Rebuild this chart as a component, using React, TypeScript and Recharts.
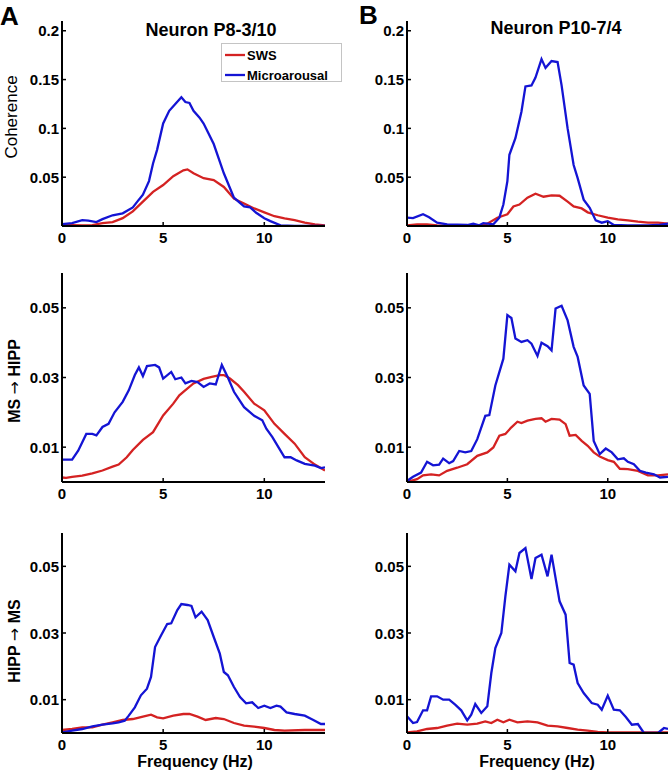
import React from 'react';
import { LineChart, Line, XAxis, YAxis } from 'recharts';

// [frequency (Hz), value]
const cohA_sws = [[0, 0.001], [1, 0.0005], [1.5, 0.001], [2, 0.003], [2.5, 0.004], [3, 0.008], [3.5, 0.015], [4, 0.025], [4.5, 0.035], [5, 0.042], [5.5, 0.051], [6, 0.057], [6.2, 0.058], [6.5, 0.054], [7, 0.049], [7.5, 0.047], [8, 0.04], [8.5, 0.028], [9, 0.023], [9.5, 0.018], [10, 0.014], [10.5, 0.01], [11, 0.0078], [11.5, 0.006], [12, 0.0034], [12.5, 0.0017], [13, 0.0007]];
const cohA_ma = [[0, 0.002], [0.5, 0.003], [1, 0.006], [1.3, 0.0055], [1.7, 0.004], [2, 0.007], [2.5, 0.011], [3, 0.013], [3.5, 0.019], [3.8, 0.027], [4, 0.032], [4.3, 0.046], [4.5, 0.064], [4.7, 0.078], [5, 0.105], [5.3, 0.118], [5.6, 0.125], [5.9, 0.132], [6.1, 0.127], [6.3, 0.126], [6.5, 0.118], [6.8, 0.111], [7, 0.105], [7.5, 0.084], [8, 0.054], [8.5, 0.029], [9, 0.02], [9.3, 0.019], [9.6, 0.0135], [10, 0.008], [10.3, 0.005], [10.8, 0.0007], [11.5, 0], [12, 0], [13, 0]];
const cohB_sws = [[0, 0.0007], [0.5, 0.0017], [1, 0.0017], [1.5, 0.0007], [2, 0], [3.5, 0], [4, 0.0024], [4.5, 0.0085], [5, 0.012], [5.3, 0.02], [5.6, 0.022], [6, 0.029], [6.4, 0.033], [6.8, 0.03], [7.2, 0.0314], [7.6, 0.031], [8, 0.025], [8.3, 0.02], [8.7, 0.018], [9, 0.014], [9.5, 0.011], [10, 0.0085], [10.5, 0.0068], [11, 0.0057], [11.5, 0.0044], [12, 0.0034], [12.5, 0.0034], [13, 0.0024]];
const cohB_ma = [[0, 0.0085], [0.3, 0.008], [0.8, 0.012], [1.1, 0.009], [1.5, 0.0034], [2, 0.0017], [3, 0.001], [3.3, 0.0024], [3.6, 0.0007], [3.8, 0.003], [4.3, 0.0017], [4.6, 0.0085], [4.8, 0.022], [5, 0.046], [5.1, 0.073], [5.4, 0.09], [5.7, 0.117], [5.9, 0.143], [6.2, 0.144], [6.4, 0.152], [6.7, 0.171], [6.9, 0.162], [7.2, 0.169], [7.5, 0.168], [7.7, 0.144], [8, 0.1], [8.3, 0.0625], [8.5, 0.049], [8.8, 0.027], [9.1, 0.0186], [9.4, 0.0057], [9.7, 0.0034], [10, 0.005], [10.3, 0.001], [11, 0.0007], [12, 0.0007], [12.5, 0.001], [13, 0.0024]];

const msA_sws = [[0, 0.0013], [0.2, 0.0012], [0.5, 0.0015], [1, 0.0018], [1.5, 0.0025], [2, 0.0033], [2.5, 0.0044], [2.8, 0.005], [3.2, 0.0071], [3.5, 0.0092], [4, 0.0121], [4.5, 0.0143], [4.8, 0.0172], [5, 0.0191], [5.5, 0.0225], [5.8, 0.0249], [6, 0.0259], [6.5, 0.0283], [7, 0.0296], [7.4, 0.0302], [7.8, 0.0307], [8, 0.0307], [8.3, 0.0297], [8.7, 0.0278], [9, 0.0259], [9.5, 0.0225], [10, 0.0206], [10.5, 0.0167], [11, 0.0138], [11.5, 0.011], [12, 0.0071], [12.5, 0.005], [13, 0.0033]];
const msA_ma = [[0, 0.0064], [0.5, 0.0064], [0.8, 0.009], [1.2, 0.0138], [1.5, 0.0138], [1.7, 0.0134], [2, 0.0158], [2.3, 0.0167], [2.6, 0.02], [3, 0.023], [3.3, 0.0263], [3.6, 0.0307], [3.8, 0.0329], [4, 0.0304], [4.2, 0.0333], [4.6, 0.0336], [4.8, 0.0329], [5, 0.0297], [5.4, 0.0316], [5.6, 0.0295], [5.9, 0.03], [6.1, 0.0283], [6.4, 0.029], [6.7, 0.0287], [7, 0.0273], [7.3, 0.0283], [7.6, 0.028], [7.9, 0.0336], [8.2, 0.03], [8.5, 0.0259], [9, 0.0215], [9.5, 0.019], [9.9, 0.0177], [10.1, 0.0153], [10.4, 0.0129], [10.8, 0.009], [11, 0.0071], [11.3, 0.0071], [11.6, 0.0062], [12, 0.0052], [12.5, 0.0047], [12.8, 0.004], [13, 0.0042]];
const msB_sws = [[0, 0], [0.5, 0.0008], [0.8, 0.0019], [1.2, 0.0022], [1.6, 0.0019], [2, 0.0032], [2.5, 0.0041], [3, 0.0051], [3.5, 0.0075], [4, 0.0085], [4.3, 0.0099], [4.6, 0.0133], [4.9, 0.0138], [5.2, 0.0157], [5.5, 0.0173], [5.7, 0.0169], [6, 0.0176], [6.4, 0.0181], [6.7, 0.0183], [6.9, 0.0173], [7.2, 0.0181], [7.6, 0.0179], [7.9, 0.0166], [8.1, 0.0133], [8.4, 0.0135], [8.7, 0.0118], [9, 0.0104], [9.3, 0.0085], [9.6, 0.0073], [10, 0.0063], [10.3, 0.0058], [10.6, 0.0038], [11, 0.0037], [11.5, 0.0032], [12, 0.0019], [12.5, 0.0019], [13, 0.0022]];
const msB_ma = [[0, 0.0003], [0.3, 0.0015], [0.7, 0.0027], [1, 0.0058], [1.3, 0.0048], [1.6, 0.005], [1.8, 0.0067], [2.1, 0.0054], [2.3, 0.006], [2.6, 0.0089], [2.9, 0.0085], [3.2, 0.0089], [3.5, 0.0123], [3.9, 0.019], [4.1, 0.0192], [4.4, 0.0277], [4.8, 0.0354], [5, 0.0479], [5.2, 0.0471], [5.4, 0.0412], [5.7, 0.0402], [6, 0.0407], [6.2, 0.0397], [6.5, 0.0362], [6.7, 0.04], [7, 0.039], [7.2, 0.0378], [7.4, 0.0498], [7.7, 0.0506], [8, 0.0464], [8.3, 0.0388], [8.5, 0.0359], [8.8, 0.0277], [9.1, 0.0253], [9.3, 0.0118], [9.6, 0.008], [9.9, 0.0096], [10.2, 0.0085], [10.5, 0.0065], [10.8, 0.0068], [11, 0.0058], [11.3, 0.0051], [11.6, 0.0032], [11.9, 0.0027], [12.3, 0.0022], [12.6, 0.0013], [13, 0.0015]];

const hpA_sws = [[0, 0.0009], [0.5, 0.0012], [1, 0.0017], [1.5, 0.0017], [2, 0.0025], [2.5, 0.0032], [3, 0.0039], [3.5, 0.0042], [4, 0.0049], [4.4, 0.0055], [4.7, 0.0047], [5, 0.0044], [5.5, 0.0052], [6, 0.0057], [6.3, 0.0057], [6.7, 0.0049], [7.1, 0.0039], [7.6, 0.0045], [8, 0.0042], [8.5, 0.003], [9, 0.0022], [9.5, 0.0019], [10, 0.0015], [10.5, 0.0009], [11, 0.0007], [12, 0.0009], [13, 0.0009]];
const hpA_ma = [[0, 0.0002], [0.5, 0.0007], [1, 0.0012], [1.5, 0.002], [2, 0.0025], [2.5, 0.0029], [2.8, 0.0032], [3.1, 0.0037], [3.3, 0.0052], [3.6, 0.0077], [3.9, 0.0113], [4.2, 0.0133], [4.4, 0.0168], [4.6, 0.0258], [4.9, 0.0293], [5.2, 0.0327], [5.4, 0.0329], [5.7, 0.0369], [5.9, 0.0387], [6.2, 0.0384], [6.4, 0.0381], [6.6, 0.0347], [6.9, 0.0364], [7.2, 0.0339], [7.5, 0.0288], [7.8, 0.0238], [8, 0.0183], [8.2, 0.0173], [8.5, 0.0138], [8.8, 0.0108], [9.1, 0.0089], [9.4, 0.0092], [9.7, 0.0075], [10, 0.0082], [10.3, 0.0075], [10.6, 0.0082], [10.8, 0.0079], [11.1, 0.0062], [11.5, 0.0057], [12, 0.0052], [12.4, 0.004], [12.8, 0.0027], [13, 0.0027]];
const hpB_sws = [[0, 0.0002], [0.5, 0.0005], [1, 0.0012], [1.5, 0.0015], [2, 0.0022], [2.5, 0.0028], [3, 0.0025], [3.5, 0.0028], [3.9, 0.0035], [4.2, 0.003], [4.5, 0.004], [4.8, 0.0032], [5.1, 0.004], [5.5, 0.0032], [6, 0.0035], [6.5, 0.0032], [7, 0.0022], [7.5, 0.002], [8, 0.0015], [8.5, 0.001], [9, 0.0007], [9.5, 0.0003], [10, 0.0002], [13, 0.0002]];
const hpB_ma = [[0, 0.005], [0.3, 0.003], [0.5, 0.0033], [0.8, 0.0068], [1, 0.0068], [1.2, 0.011], [1.5, 0.011], [1.8, 0.01], [2.1, 0.01], [2.4, 0.0085], [2.7, 0.0068], [3, 0.0038], [3.2, 0.0055], [3.4, 0.0087], [3.7, 0.006], [4, 0.008], [4.2, 0.018], [4.4, 0.0255], [4.7, 0.03], [4.9, 0.041], [5.1, 0.0505], [5.4, 0.0485], [5.6, 0.054], [5.9, 0.0555], [6.2, 0.0462], [6.4, 0.0525], [6.7, 0.0535], [7, 0.047], [7.2, 0.0535], [7.6, 0.0395], [7.9, 0.0355], [8.1, 0.021], [8.3, 0.0205], [8.5, 0.015], [8.8, 0.012], [9.2, 0.009], [9.5, 0.0085], [9.7, 0.007], [10, 0.0112], [10.3, 0.007], [10.6, 0.0068], [10.9, 0.0048], [11.2, 0.0025], [11.5, 0.0027], [11.8, 0], [12.5, 0], [12.8, 0.0015], [13, 0.0012]];

const xTicks = [0, 5, 10];
const cohTicks = [0.05, 0.1, 0.15, 0.2];
const gcTicks = [0.01, 0.03, 0.05];

const RED = '#d42222';
const BLUE = '#1414d4';
const FONT = '"Liberation Sans", Arial, Helvetica, sans-serif';
const TICK_FS = 15;

const toPts = (a: number[][]) => a.map(([f, v]) => ({ f, v }));

const YTick = (props: any) => {
  const { x, y, payload } = props;
  return <g>
      <line x1={x + 3} x2={x + 7} y1={y} y2={y} stroke="#000" strokeWidth={1.5} />
      <text x={x} y={y} dy={5.5} textAnchor="end" fontFamily={FONT} fontWeight="bold" fontSize={TICK_FS} fill="#000">
        {String(payload.value)}
      </text>
    </g>;
};

const XTick = (props: any) => {
  const { x, y, payload } = props;
  return <g>
      <line x1={x} x2={x} y1={y - 6} y2={y - 10} stroke="#000" strokeWidth={1.5} />
      <text x={x} y={y + 10.5} textAnchor="middle" fontFamily={FONT} fontWeight="bold" fontSize={TICK_FS} fill="#000">
        {String(payload.value)}
      </text>
    </g>;
};

type PanelProps = {
  left: number;
  top: number;
  width: number;
  height: number;
  mTop: number;
  mRight: number;
  yWidth: number;
  xHeight: number;
  yMax: number;
  yTicks: number[];
  sws: number[][];
  ma: number[][];
};

const Panel = ({ left, top, width, height, mTop, mRight, yWidth, xHeight, yMax, yTicks, sws, ma }: PanelProps) => <div style={{ position: 'absolute', left, top }}>
    <LineChart width={width} height={height} margin={{ top: mTop, right: mRight, bottom: 0, left: 0 }}>
      <XAxis dataKey="f" type="number" domain={[0, 13]} ticks={xTicks} allowDataOverflow height={xHeight} tickSize={0} tickMargin={6} tick={<XTick />} axisLine={{ stroke: '#000', strokeWidth: 2 }} />
      <YAxis type="number" domain={[0, yMax]} ticks={yTicks} allowDataOverflow width={yWidth} tickSize={0} tickMargin={3} tick={<YTick />} axisLine={{ stroke: '#000', strokeWidth: 2 }} />
      <Line data={toPts(sws)} dataKey="v" type="linear" stroke={RED} strokeWidth={2.3} dot={false} isAnimationActive={false} />
      <Line data={toPts(ma)} dataKey="v" type="linear" stroke={BLUE} strokeWidth={2.3} dot={false} isAnimationActive={false} />
    </LineChart>
  </div>;

export default function App() {
  const txt = { fontFamily: FONT, fill: '#000' };
  const arrow = <tspan fontFamily='"DejaVu Sans", sans-serif' fontWeight="normal">→</tspan>;
  return <div style={{ position: 'absolute', left: 0, top: 0, width: 671, height: 770, background: '#fff', overflow: 'hidden' }}>
      <Panel left={0} top={0} width={335} height={260} mTop={21} mRight={10} yWidth={62} xHeight={34} yMax={0.21} yTicks={cohTicks} sws={cohA_sws} ma={cohA_ma} />
      <Panel left={335} top={0} width={336} height={260} mTop={21} mRight={3} yWidth={72} xHeight={34} yMax={0.21} yTicks={cohTicks} sws={cohB_sws} ma={cohB_ma} />
      <Panel left={0} top={260} width={335} height={260} mTop={13} mRight={10} yWidth={62} xHeight={38} yMax={0.06} yTicks={gcTicks} sws={msA_sws} ma={msA_ma} />
      <Panel left={335} top={260} width={336} height={260} mTop={13} mRight={3} yWidth={72} xHeight={38} yMax={0.06} yTicks={gcTicks} sws={msB_sws} ma={msB_ma} />
      <Panel left={0} top={520} width={335} height={250} mTop={13} mRight={10} yWidth={62} xHeight={37} yMax={0.06} yTicks={gcTicks} sws={hpA_sws} ma={hpA_ma} />
      <Panel left={335} top={520} width={336} height={250} mTop={13} mRight={3} yWidth={72} xHeight={37} yMax={0.06} yTicks={gcTicks} sws={hpB_sws} ma={hpB_ma} />

      <svg width={671} height={770} style={{ position: 'absolute', left: 0, top: 0, pointerEvents: 'none' }}>
        <text x={0} y={25} fontSize={26} fontWeight="bold" {...txt}>A</text>
        <text x={359} y={24} fontSize={26} fontWeight="bold" {...txt}>B</text>
        <text x={211} y={36} fontSize={18} fontWeight="bold" textAnchor="middle" {...txt}>Neuron P8-3/10</text>
        <text x={556} y={34} fontSize={18} fontWeight="bold" textAnchor="middle" {...txt}>Neuron P10-7/4</text>

        <text transform="translate(17,117) rotate(-90)" fontSize={17} textAnchor="middle" {...txt}>Coherence</text>
        <text transform="translate(20,381) rotate(-90)" fontSize={16} fontWeight="bold" textAnchor="middle" {...txt}>MS {arrow} HIPP</text>
        <text transform="translate(20,641) rotate(-90)" fontSize={16} fontWeight="bold" textAnchor="middle" {...txt}>HIPP {arrow} MS</text>

        <text x={195} y={767} fontSize={16} fontWeight="bold" textAnchor="middle" {...txt}>Frequency (Hz)</text>
        <text x={537} y={767} fontSize={16} fontWeight="bold" textAnchor="middle" {...txt}>Frequency (Hz)</text>

        <rect x={221.5} y={43.5} width={120} height={38} fill="#fff" stroke="#c4c4c4" strokeWidth={1} />
        <line x1={225} x2={245} y1={55} y2={55} stroke={RED} strokeWidth={2.3} />
        <text x={247} y={60} fontSize={13} fontWeight="bold" {...txt}>SWS</text>
        <line x1={225} x2={245} y1={75} y2={75} stroke={BLUE} strokeWidth={2.3} />
        <text x={247} y={80} fontSize={13} fontWeight="bold" {...txt}>Microarousal</text>
      </svg>
    </div>;
}
